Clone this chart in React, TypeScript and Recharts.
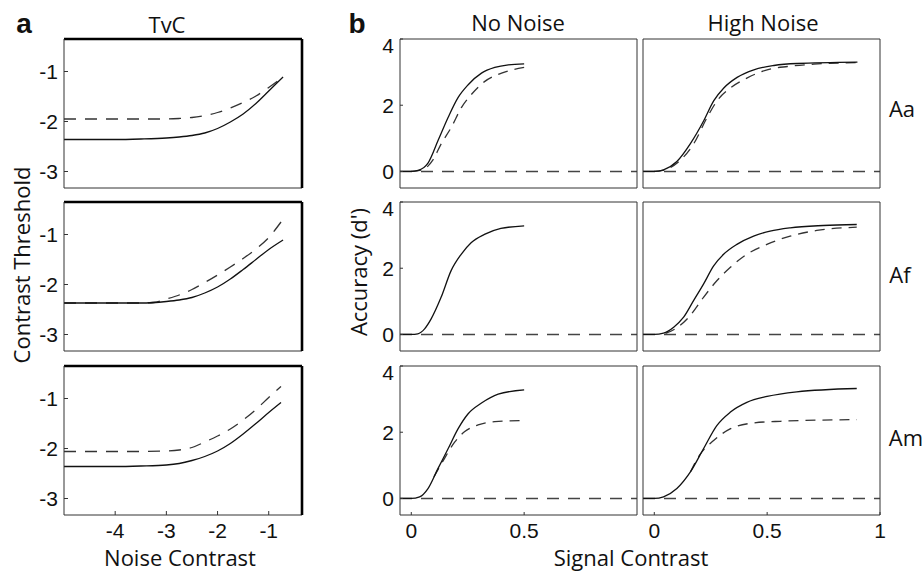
import React from 'react';
import { LineChart, Line, XAxis, YAxis } from 'recharts';

// ---- panel a: TvC (log threshold vs log noise contrast) ----
const tvcX = [-5, -4.5, -4, -3.5, -3, -2.75, -2.5, -2.25, -2, -1.75, -1.5, -1.25, -1, -0.72];
const tvcAaSolid = [-2.36, -2.36, -2.36, -2.35, -2.33, -2.31, -2.28, -2.23, -2.14, -2.01, -1.85, -1.64, -1.39, -1.11];
const tvcAaDashed = [-1.95, -1.95, -1.95, -1.95, -1.95, -1.94, -1.92, -1.88, -1.82, -1.73, -1.62, -1.49, -1.32, -1.11];
const tvcAfSolid = [-2.37, -2.37, -2.37, -2.37, -2.34, -2.31, -2.26, -2.17, -2.05, -1.89, -1.7, -1.5, -1.3, -1.11];
const tvcAfDashedX = [-5, -4.5, -4, -3.5, -3.25, -3, -2.75, -2.5, -2.25, -2, -1.75, -1.5, -1.25, -1, -0.76];
const tvcAfDashed = [-2.37, -2.37, -2.37, -2.37, -2.36, -2.29, -2.21, -2.1, -1.96, -1.81, -1.65, -1.48, -1.29, -1.06, -0.75];
const tvcAmX = [-5, -4.5, -4, -3.5, -3, -2.75, -2.5, -2.25, -2, -1.75, -1.5, -1.25, -1, -0.76];
const tvcAmSolid = [-2.36, -2.36, -2.36, -2.35, -2.33, -2.3, -2.24, -2.16, -2.05, -1.9, -1.71, -1.5, -1.28, -1.08];
const tvcAmDashed = [-2.06, -2.06, -2.06, -2.06, -2.05, -2.03, -1.98, -1.87, -1.75, -1.61, -1.43, -1.22, -0.98, -0.76];

const tvcXTicks = [-4, -3, -2, -1];
const tvcYTicks = [-3, -2, -1];

// ---- panel b: d' vs signal contrast ----
const zeroX = [-0.05, 1];
const zeroY = [0, 0];

const aaNoSolidX = [-0.05, 0, 0.03, 0.074, 0.119, 0.163, 0.207, 0.252, 0.311, 0.37, 0.43, 0.5];
const aaNoSolid = [0, 0, 0.03, 0.25, 0.94, 1.63, 2.23, 2.62, 2.97, 3.14, 3.22, 3.25];
const aaNoDashedX = [0, 0.05, 0.096, 0.133, 0.178, 0.222, 0.267, 0.326, 0.4, 0.5];
const aaNoDashed = [0, 0.05, 0.35, 0.84, 1.34, 1.93, 2.33, 2.72, 2.97, 3.14];

const aaHiSolidX = [-0.05, 0, 0.041, 0.1, 0.16, 0.219, 0.263, 0.308, 0.367, 0.441, 0.53, 0.633, 0.9];
const aaHiSolid = [0, 0, 0.05, 0.3, 0.84, 1.53, 2.13, 2.52, 2.84, 3.07, 3.2, 3.26, 3.3];
const aaHiDashedX = [0, 0.05, 0.1, 0.175, 0.234, 0.278, 0.337, 0.41, 0.5, 0.59, 0.707, 0.9];
const aaHiDashed = [0, 0.05, 0.25, 0.84, 1.63, 2.13, 2.52, 2.82, 3.07, 3.17, 3.24, 3.29];

const afNoSolidX = [-0.05, 0, 0.029, 0.059, 0.088, 0.132, 0.176, 0.221, 0.265, 0.324, 0.397, 0.5];
const afNoSolid = [0, 0, 0.02, 0.17, 0.47, 1.12, 1.92, 2.42, 2.77, 3.02, 3.2, 3.28];

const afHiSolidX = [-0.05, 0, 0.041, 0.086, 0.13, 0.174, 0.218, 0.263, 0.307, 0.366, 0.44, 0.513, 0.602, 0.749, 0.897];
const afHiSolid = [0, 0, 0.04, 0.22, 0.52, 1.02, 1.52, 2.07, 2.42, 2.72, 2.97, 3.12, 3.22, 3.29, 3.32];
const afHiDashedX = [0.05, 0.1, 0.159, 0.218, 0.277, 0.336, 0.41, 0.499, 0.602, 0.72, 0.897];
const afHiDashed = [0.03, 0.2, 0.57, 1.12, 1.62, 2.02, 2.42, 2.72, 2.97, 3.14, 3.24];

const amNoSolidX = [-0.05, 0, 0.037, 0.074, 0.118, 0.163, 0.207, 0.251, 0.311, 0.385, 0.5];
const amNoSolid = [0, 0, 0.05, 0.3, 0.9, 1.5, 2.1, 2.55, 2.88, 3.15, 3.28];
const amNoDashedX = [0.1, 0.148, 0.192, 0.237, 0.296, 0.37, 0.5];
const amNoDashed = [0.65, 1.22, 1.7, 2.02, 2.22, 2.32, 2.35];

const amHiSolidX = [-0.05, 0, 0.041, 0.1, 0.16, 0.218, 0.277, 0.336, 0.41, 0.5, 0.631, 0.897];
const amHiSolid = [0, 0, 0.05, 0.3, 0.8, 1.5, 2.2, 2.6, 2.9, 3.08, 3.22, 3.32];
const amHiDashedX = [0.16, 0.2, 0.263, 0.336, 0.44, 0.558, 0.897];
const amHiDashed = [0.8, 1.3, 1.75, 2.1, 2.28, 2.33, 2.38];

const dYTicks = [0, 2, 4];

type Pt = { x: number; y: number };
const pts = (xs: number[], ys: number[]): Pt[] => xs.map((x, i) => ({ x, y: ys[i] }));

type Series = { data: Pt[]; dash?: string; color?: string; width?: number };

const TICK_FONT = "'Liberation Sans', Arial, sans-serif";
const LABEL_FONT = "'Open Sans', sans-serif";

const solid = (d: Pt[]): Series => ({ data: d, color: '#111', width: 1.3 });
const dashed = (d: Pt[], dash = '10 7'): Series => ({ data: d, dash, color: '#333', width: 1.3 });
const zero = (): Series => ({ data: pts(zeroX, zeroY), dash: '12 9', color: '#444', width: 1.5 });

interface PlotProps {
  left: number;
  top: number;
  w: number;
  h: number;
  xDomain: [number, number];
  yDomain: [number, number];
  xTicks: number[];
  yTicks: number[];
  showX: boolean;
  showY: boolean;
  series: Series[];
  heavy?: boolean;
  tickLen: number;
}

function Plot({ left, top, w, h, xDomain, yDomain, xTicks, yTicks, showX, showY, series, heavy, tickLen }: PlotProps) {
  const padL = 50;
  const padT = 6;
  const padR = 6;
  const padB = 30;
  const thin = { stroke: '#333', strokeWidth: 1 };
  const thick = heavy ? { stroke: '#000', strokeWidth: 2.6 } : thin;
  const tickStyle = { fontSize: 21, fill: '#111', fontFamily: TICK_FONT };
  return (
    <div style={{ position: 'absolute', left: left - padL, top: top - padT }}>
      <LineChart width={w + padL + padR} height={h + padT + padB} margin={{ top: padT - 1, right: padR - 1, left: 0, bottom: 0 }}>
        <XAxis
          xAxisId="b"
          dataKey="x"
          type="number"
          domain={xDomain}
          ticks={xTicks}
          allowDataOverflow
          height={padB}
          axisLine={thin}
          stroke="#333"
          tickSize={-tickLen}
          tickMargin={tickLen + 8}
          tick={showX ? tickStyle : false}
        />
        <XAxis
          xAxisId="t"
          orientation="top"
          dataKey="x"
          type="number"
          domain={xDomain}
          ticks={xTicks}
          allowDataOverflow
          height={1}
          axisLine={thick}
          stroke="#333"
          tickLine={!heavy}
          tickSize={-tickLen}
          tick={false}
        />
        <YAxis
          yAxisId="l"
          type="number"
          domain={yDomain}
          ticks={yTicks}
          allowDataOverflow
          width={padL}
          axisLine={thin}
          stroke="#333"
          tickSize={-tickLen}
          tickMargin={tickLen + 6}
          tick={showY ? tickStyle : false}
        />
        <YAxis
          yAxisId="r"
          orientation="right"
          type="number"
          domain={yDomain}
          ticks={yTicks}
          allowDataOverflow
          width={1}
          axisLine={thick}
          stroke="#333"
          tickLine={!heavy}
          tickSize={-tickLen}
          tick={false}
        />
        {series.map((s, i) => (
          <Line
            key={i}
            xAxisId="b"
            yAxisId="l"
            data={s.data}
            dataKey="y"
            type="monotone"
            stroke={s.color}
            strokeWidth={s.width}
            strokeDasharray={s.dash}
            dot={false}
            activeDot={false}
            isAnimationActive={false}
          />
        ))}
      </LineChart>
    </div>
  );
}

function Txt({ x, y, children, size = 22, rotate = 0, bold = false, font = LABEL_FONT }: any) {
  return (
    <div
      style={{
        position: 'absolute',
        left: x,
        top: y,
        transform: `translate(-50%, -50%) rotate(${rotate}deg)`,
        fontFamily: font,
        fontSize: size,
        fontWeight: bold ? 700 : 400,
        color: '#111',
        whiteSpace: 'nowrap',
        lineHeight: 1,
      }}
    >
      {children}
    </div>
  );
}

const rowsTop = [39, 202, 366];
const rowH = 149;

export default function App() {
  const aL = 64;
  const aW = 238;
  const bL = [400, 643];
  const bW = 237;
  const tvc = (row: number, s: Series[]) => (
    <Plot
      key={`a${row}`}
      left={aL}
      top={rowsTop[row]}
      w={aW}
      h={rowH}
      xDomain={[-5, -0.35]}
      yDomain={[-3.33, -0.35]}
      xTicks={tvcXTicks}
      yTicks={tvcYTicks}
      showX={row === 2}
      showY
      series={s}
      heavy
      tickLen={4}
    />
  );
  const dp = (row: number, col: number, s: Series[]) => (
    <Plot
      key={`b${row}${col}`}
      left={bL[col]}
      top={rowsTop[row]}
      w={bW}
      h={rowH}
      xDomain={[-0.05, 1]}
      yDomain={[-0.5, 4]}
      xTicks={col === 0 ? [0, 0.5] : [0, 0.5, 1]}
      yTicks={dYTicks}
      showX={row === 2}
      showY={col === 0}
      series={s}
      tickLen={3}
    />
  );
  return (
    <div style={{ position: 'absolute', left: 0, top: 0, width: 923, height: 573, background: '#fff', overflow: 'hidden' }}>
      {tvc(0, [dashed(pts(tvcX, tvcAaDashed), '12 9'), solid(pts(tvcX, tvcAaSolid))])}
      {tvc(1, [dashed(pts(tvcAfDashedX, tvcAfDashed), '12 9'), solid(pts(tvcX, tvcAfSolid))])}
      {tvc(2, [dashed(pts(tvcAmX, tvcAmDashed), '12 9'), solid(pts(tvcAmX, tvcAmSolid))])}

      {dp(0, 0, [zero(), dashed(pts(aaNoDashedX, aaNoDashed)), solid(pts(aaNoSolidX, aaNoSolid))])}
      {dp(0, 1, [zero(), dashed(pts(aaHiDashedX, aaHiDashed)), solid(pts(aaHiSolidX, aaHiSolid))])}
      {dp(1, 0, [zero(), solid(pts(afNoSolidX, afNoSolid))])}
      {dp(1, 1, [zero(), dashed(pts(afHiDashedX, afHiDashed)), solid(pts(afHiSolidX, afHiSolid))])}
      {dp(2, 0, [zero(), dashed(pts(amNoDashedX, amNoDashed)), solid(pts(amNoSolidX, amNoSolid))])}
      {dp(2, 1, [zero(), dashed(pts(amHiDashedX, amHiDashed)), solid(pts(amHiSolidX, amHiSolid))])}

      <Txt x={24} y={24} size={28} bold font={TICK_FONT}>a</Txt>
      <Txt x={357} y={24} size={28} bold font={TICK_FONT}>b</Txt>
      <Txt x={167} y={24}>TvC</Txt>
      <Txt x={518} y={22}>No Noise</Txt>
      <Txt x={763} y={22}>High Noise</Txt>
      <Txt x={21} y={265} rotate={-90}>Contrast Threshold</Txt>
      <Txt x={358} y={272} rotate={-90}>Accuracy (d')</Txt>
      <Txt x={180} y={557}>Noise Contrast</Txt>
      <Txt x={631} y={557}>Signal Contrast</Txt>
      <Txt x={902} y={108}>Aa</Txt>
      <Txt x={900} y={274}>Af</Txt>
      <Txt x={906} y={437}>Am</Txt>
    </div>
  );
}
